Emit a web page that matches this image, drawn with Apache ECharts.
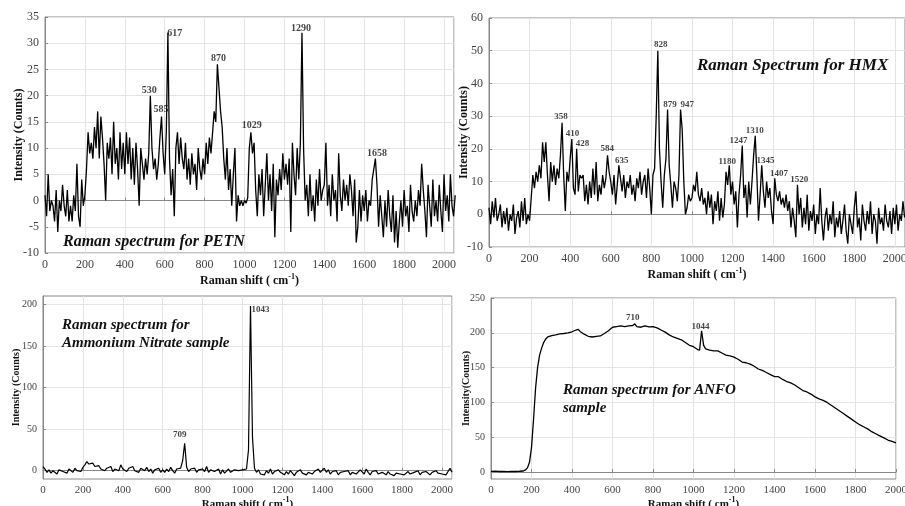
<!DOCTYPE html>
<html>
<head>
<meta charset="utf-8">
<script src="https://cdn.jsdelivr.net/npm/echarts@6/dist/echarts.min.js"></script>
<style>
  html, body { margin: 0; padding: 0; background: #fff; }
  #chart { width: 905px; height: 506px; }
</style>
</head>
<body>
<div id="chart"></div>
<script>
// ---- data ----
const petnStep = 8;
const petnIntensity = [
  1, -3, 5, -2, 0, -1, -4, 2, -6, 0, -2, 3, -1, -3, 2, -4, -1, -4, 1, -2, 7, -3, -5, 4, -1,
  1, 6, 13, 9, 11, 8, 14, 10, 17, 8, 16, 12, 7, 0, 11, 8, 12, 5, 15, 7, 10, 4, 13, 6, 11,
  5, 13, 7, 12, 4, 10, 3, 11, 6, -1, 10, 7, 4, 8, 5, 9, 20, 10, 6, 8, 4, 7, 12, 16, 9,
  5, 13, 32, 8, 1, 6, -3, 10, 13, 7, 12, 8, 6, 11, 4, 8, 3, 9, 5, 7, 2, 10, 6, 4, 8,
  5, 11, 7, 12, 9, 13, 17, 15, 26, 26, 17, 14, 8, 4, 10, 2, 6, -1, 5, 10, -4, 1, -1, 0, -1,
  0, -0.5, 0.5, 10, 13, 9, 11, 2, -3, 5, 1, 6, -3, 3, 9, 0, 5, -2, 7, -7, 4, 1, 6, 2, 9,
  4, 7, 3, 8, -6, 11, 5, 1, 10, 4, 11, 32, 10, 0, 3, -3, 5, -2, 1, -4, 4, -1, 6, 0, 2,
  3, 11, -1, 3, -3, 5, 0, 2, -4, 9, 1, -2, 4, 0, 3, -1, 5, 2, -3, 4, -8, -5, 2, -4, 1,
  -2, 2, -4, 0, -1, 4, 6, 8, 3, -5, 1, -3, -7, 0, -5, 2, -3, -6, 1, -8, -2, -9, -4, 0, -5,
  2, -3, -1, -6, 3, -2, -4, 0, -3, 2, -1, 7, 2, -2, -7, 3, -1, -5, 4, -3, 0, -4, 3, -2, -6,
  5, -2, 1, -4, 5, -1, -3, 1
];

const hmxStep = 8;
const hmxIntensity = [
  2, -3, 4, -1, 5, -2, 0, 3, -4, 1, -3, 2, -5, 0, -2, 3, -6, -1, 1, -4, 4, -2, 5, -3, 0,
  -2, 5, 12, 8, 13, 10, 15, 11, 22, 16, 22, 12, 4, 16, 10, 15, 9, 14, 11, 18, 28, 12, 1, 13, 10,
  17, 23, 8, 6, 20, 7, 12, 11, 12, 4, 9, 3, 10, 5, 14, 6, 16, 4, 9, 6, 12, 8, 11, 18, 13,
  10, 6, 12, 3, 9, 15, 11, 7, 12, 5, 10, 8, 12, 6, 9, 4, 11, 8, 13, 6, 10, 12, 5, 14, 8,
  0, 12, 14, 30, 50, 20, 10, 2, 12, 17, 32, 15, 9, 2, 10, 8, 4, 12, 32, 26, 10, 0, 2, 6, 4,
  5, 9, 7, 13, 6, 4, 8, 3, 5, 0, 7, 2, 6, -3, 4, 1, 7, -2, 5, -1, 3, 13, 9, 15, 6,
  10, 3, 7, -4, 6, 12, 21, 5, 9, -1, 10, 3, 10, 18, 24, 12, -2, 6, 15, 7, 2, 10, 5, 8, 1,
  -3, 11, 6, 4, 7, 3, 5, 2, 6, 1, 4, -4, 2, -2, -7, 9, 0, 5, -4, 2, -3, 6, -5, 1, -2,
  3, -6, 0, -3, 8, -2, -8, -1, 2, -5, 0, -3, 4, -7, -1, -4, 1, -6, -2, 3, -5, -9, 0, -3, -6,
  2, 7, -4, -1, -8, 3, -2, -5, 1, -3, 4, -6, 0, -2, -9, 2, -3, -1, -5, 3, -2, -4, 1, -6, 2,
  -3, 3, -5, 0, -2, 4, -1
];

const anStep = 10;
const anIntensity = [
  5, 2, -2, 1, -3, 0, 2, -4, 1, 3, -1, 0, -3, 2, 1, -2, 3, 0, 1, -1,
  4, 7, 11, 8, 6, 9, 5, 3, 6, 2, 4, 0, 3, 1, 5, -1, 2, 4, 0, 7,
  2, 4, -1, 3, 1, 5, 0, 2, -2, 3, 1, 0, 4, -1, 2, -3, 1, 0, 3, -2,
  1, -2, 2, -1, 4, 0, -3, 2, 1, 3, 12, 33, 4, -1, 2, 0, 3, -2, 1, 0,
  2, -1, 5, -2, 1, 3, -1, 0, 2, -4, 1, -3, -5, 2, -2, 0, 1, -1, 0, 1,
  1, 0, 2, 25, 198, 40, 3, -2, 1, -4, -2, -5, 0, -3, 2, -4, -1, -3, 1, -2,
  -2, -5, -1, -4, 0, -3, -6, -2, -4, 1, -3, -1, -5, -2, 0, -4, -1, -3, 2, -2,
  -1, 3, -2, 1, -4, -1, -3, 0, -5, -2, -4, -1, -3, 0, -5, -2, -1, -4, -2, 1,
  -1, -4, 2, -2, -5, -1, -3, 0, -4, -6, -2, -3, -5, -1, -4, -2, -6, -3, -1, -4,
  -2, -5, -3, -1, -4, -6, -2, -3, 0, -5, -2, -4, -1, -3, -5, -2, -4, 0, -3, -1,
  -4, -2, -5, -1, 3, -2
];

const anfoShift = [
  0, 20, 40, 60, 80, 100, 120, 140, 160, 170, 180, 190, 200, 210, 220, 230, 240, 250, 260, 270, 280,
  300, 320, 340, 360, 380, 400, 420, 430, 440, 460, 480, 500, 520, 540, 560, 580, 600, 620, 640, 660,
  680, 700, 710, 720, 740, 760, 780, 800, 820, 840, 860, 880, 900, 920, 940, 960, 980, 1000, 1020,
  1030, 1040, 1050, 1060, 1080, 1100, 1120, 1140, 1160, 1180, 1200, 1220, 1240, 1260, 1280, 1300,
  1320, 1340, 1360, 1380, 1400, 1420, 1440, 1460, 1480, 1500, 1520, 1540, 1560, 1580, 1600, 1620,
  1640, 1660, 1680, 1700, 1720, 1740, 1760, 1780, 1800, 1820, 1840, 1860, 1880, 1900, 1920, 1940,
  1960, 1980, 2000
];
const anfoIntensity = [
  1, 1.2, 0.8, 1, 0.6, 1, 0.8, 1.1, 1.5, 3, 6, 14, 35, 75, 120, 150, 168, 178, 186, 191, 194,
  196, 197, 198.5, 199, 200, 201.5, 204, 205, 202, 198, 195, 194, 195, 195.5, 199, 203, 208, 209, 210, 209,
  210, 210.5, 213, 209, 208, 210, 208.5, 209, 207, 204, 201, 197, 194, 192, 190, 186, 182, 180, 176,
  175, 203, 182, 177, 175, 174, 174, 171, 168, 167, 165, 162, 158, 157, 155, 152,
  148, 146, 143, 140, 137, 137, 133, 130, 128, 125, 121, 117, 115, 112, 108, 105,
  103, 100, 96, 92, 88, 84, 80, 76, 72, 68, 65, 62, 58, 55, 52, 49,
  46, 44, 42
];

// peak labels: text, label centre (shift, intensity)
const petnPeaks = ['530', '585', '617', '870', '1029', '1290', '1658'];
const petnPeakPos = [[523, 21], [581, 17.3], [650, 31.9], [869, 27.1], [1036, 14.4], [1283, 32.8], [1664, 8.9]];
const hmxPeaks = ['358', '410', '428', '584', '635', '828', '879', '947', '1180', '1247', '1310', '1345', '1407', '1520'];
const hmxPeakPos = [[355, 29.8], [412, 24.7], [461, 21.7], [583, 20], [654, 16.4], [846, 51.7], [892, 33.6], [977, 33.6],
  [1174, 16.1], [1230, 22.4], [1310, 25.5], [1363, 16.4], [1429, 12.5], [1529, 10.5]];
const anPeaks = ['709', '1043'];
const anPeakPos = [[685, 43.4], [1090, 193.6]];
const anfoPeaks = ['710', '1044'];
const anfoPeakPos = [[700, 221.7], [1035, 208.9]];

const serif = '"Liberation Serif", "Times New Roman", serif';
const xName = 'Raman shift ( cm{sup|-1})';

const toPairs = (step, values) => values.map((v, i) => [i * step, v]);

function makeXAxis(gridIndex, max, fontSize, nameGap, showMax) {
  return {
    type: 'value',
    gridIndex: gridIndex,
    min: 0,
    max: max,
    interval: 200,
    name: xName,
    nameLocation: 'middle',
    nameGap: nameGap,
    nameMoveOverlap: false,
    nameTextStyle: {
      fontFamily: serif,
      fontWeight: 'bold',
      fontSize: fontSize,
      color: '#111',
      lineHeight: 16,
      rich: {
        sup: { fontFamily: serif, fontWeight: 'bold', fontSize: 8, lineHeight: 8, verticalAlign: 'top', color: '#111' },
      },
    },
    axisLine: { show: true, lineStyle: { color: '#888' } },
    axisTick: { show: true, inside: true, length: 3, lineStyle: { color: '#888' } },
    axisLabel: {
      fontFamily: serif,
      fontSize: fontSize,
      color: '#444',
      margin: 6,
      showMaxLabel: showMax,
      formatter: (v) => String(v),
    },
    splitLine: { show: true, lineStyle: { color: '#e4e4e4' } },
  };
}

function makeYAxis(gridIndex, min, max, interval, ticks, name, fontSize, nameSize, nameGap) {
  const axis = {
    type: 'value',
    gridIndex: gridIndex,
    min: min,
    max: max,
    name: name,
    nameLocation: 'middle',
    nameGap: nameGap,
    nameMoveOverlap: false,
    nameTextStyle: { fontFamily: serif, fontWeight: 'bold', fontSize: nameSize, color: '#111' },
    axisLine: { show: true, lineStyle: { color: '#888' } },
    axisTick: { show: true, inside: true, length: 3, lineStyle: { color: '#888' } },
    axisLabel: { fontFamily: serif, fontSize: fontSize, color: '#444', margin: 6, formatter: (v) => String(v) },
    splitLine: { show: true, lineStyle: { color: '#e4e4e4' } },
  };
  if (ticks) {
    axis.axisTick.customValues = ticks;
    axis.axisLabel.customValues = ticks;
  } else {
    axis.interval = interval;
  }
  return axis;
}

function spectrum(idx, data, width) {
  return {
    type: 'line',
    xAxisIndex: idx,
    yAxisIndex: idx,
    data: data,
    symbol: 'none',
    lineStyle: { color: '#000', width: width },
    z: 3,
  };
}

function peakLabels(idx, names, pos, fontSize) {
  return {
    type: 'scatter',
    xAxisIndex: idx,
    yAxisIndex: idx,
    symbolSize: 1,
    itemStyle: { color: 'rgba(0,0,0,0)' },
    data: names.map((n, i) => [pos[i][0], pos[i][1], n]),
    label: {
      show: true,
      position: 'inside',
      formatter: (p) => p.value[2],
      fontFamily: serif,
      fontWeight: 'bold',
      fontSize: fontSize,
      color: '#111',
    },
    silent: true,
    z: 5,
  };
}

function caption(left, top, text, size) {
  return {
    type: 'text',
    left: left,
    top: top,
    style: {
      text: text,
      font: 'italic bold ' + size + 'px ' + serif,
      fill: '#111',
      lineHeight: size + 3,
    },
    z: 10,
  };
}

const chart = echarts.init(document.getElementById('chart'));

const gridBase = { show: true, borderColor: '#888', borderWidth: 1, outerBoundsMode: 'none' };

const option = {
  animation: false,
  backgroundColor: '#fff',
  grid: [
    Object.assign({ left: 45, top: 17, width: 409, height: 236 }, gridBase),
    Object.assign({ left: 489, top: 18, width: 416, height: 229 }, gridBase),
    Object.assign({ left: 43, top: 296, width: 409, height: 183 }, gridBase),
    Object.assign({ left: 491, top: 298, width: 405, height: 181 }, gridBase),
  ],
  xAxis: [
    makeXAxis(0, 2050, 12, 20, false),
    makeXAxis(1, 2050, 12, 20, false),
    makeXAxis(2, 2050, 11, 17, false),
    makeXAxis(3, 2000, 11, 17, true),
  ],
  yAxis: [
    makeYAxis(0, -10, 35, 5, null, 'Intensity (Counts)', 12, 12, 20),
    makeYAxis(1, -10, 60, 10, null, 'Intensity (Counts)', 12, 12, 19),
    makeYAxis(2, -10, 210, 50, [0, 50, 100, 150, 200], 'Intensity (Counts)', 10, 10, 22),
    makeYAxis(3, -10, 250, 50, [0, 50, 100, 150, 200, 250], 'Intensity(Counts)', 10, 10, 20),
  ],
  series: [
    spectrum(0, toPairs(petnStep, petnIntensity), 1.3),
    spectrum(1, toPairs(hmxStep, hmxIntensity), 1.3),
    spectrum(2, toPairs(anStep, anIntensity), 1.2),
    spectrum(3, anfoShift.map((s, i) => [s, anfoIntensity[i]]), 1.3),
    peakLabels(0, petnPeaks, petnPeakPos, 10),
    peakLabels(1, hmxPeaks, hmxPeakPos, 9),
    peakLabels(2, anPeaks, anPeakPos, 9),
    peakLabels(3, anfoPeaks, anfoPeakPos, 9),
  ],
  graphic: [
    caption(63, 232, 'Raman spectrum for PETN', 16),
    caption(697, 56, 'Raman Spectrum for HMX', 17),
    caption(62, 316, 'Raman spectrum for\nAmmonium Nitrate sample', 15),
    caption(563, 381, 'Raman spectrum for ANFO\nsample', 15),
  ],
};

chart.setOption(option);
</script>
</body>
</html>
